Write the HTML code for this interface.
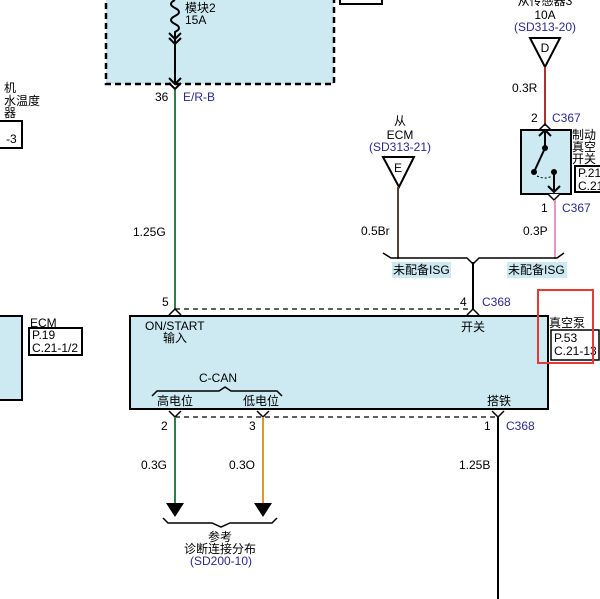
<!DOCTYPE html>
<html><head><meta charset="utf-8"><style>
body{margin:0;background:#fff}
svg{display:block;font-family:"Liberation Sans","Noto Sans CJK SC",sans-serif;font-size:12px}
.b{fill:#2a2a8a}
</style></head><body>
<svg width="600" height="599" viewBox="0 0 600 599" xmlns="http://www.w3.org/2000/svg">
<!-- top module box -->
<rect x="106" y="-5" width="228" height="89" fill="#cde9f1" stroke="#000" stroke-width="2.5" stroke-dasharray="6,4"/>
<rect x="340" y="-5" width="42" height="9" fill="#fff" stroke="#000" stroke-width="2"/>
<path d="M175 0 q-8 4 0 8 q8 4 0 8 q-8 4 0 8 q8 4 0 8 L175 84" fill="none" stroke="#000" stroke-width="2"/>
<path d="M169 33 l6 6 l6 -6 M169 38 l6 6 l6 -6 M169 78 l6 6 l6 -6 M169 83 l6 6 l6 -6" fill="none" stroke="#000" stroke-width="2"/>
<text x="185" y="12">模块2</text><text x="185" y="24">15A</text>
<text x="155" y="101">36</text><text x="183" y="101" class="b">E/R-B</text>
<line x1="175" y1="90" x2="175" y2="310" stroke="#2e7d4a" stroke-width="2"/>
<text x="133" y="236">1.25G</text>
<!-- left -->
<text x="4" y="92">机</text><text x="4" y="105">水温度</text><text x="4" y="117">器</text>
<rect x="-2" y="121" width="24" height="27" fill="#fff" stroke="#000" stroke-width="2"/>
<text x="6" y="143">-3</text>
<rect x="-2" y="316" width="24" height="84" fill="#cde9f1" stroke="#000" stroke-width="2"/>
<text x="30" y="327">ECM</text>
<rect x="29" y="328" width="53" height="27" fill="#fff" stroke="#000" stroke-width="2"/>
<text x="32" y="339">P.19</text><text x="32" y="352">C.21-1/2</text>
<!-- main box -->
<rect x="130" y="316" width="418" height="93" fill="#cde9f1" stroke="#000" stroke-width="2"/>
<line x1="175" y1="309" x2="473" y2="309" stroke="#000" stroke-width="1.2" stroke-dasharray="5,4"/>
<path d="M169 315 l6 -6 l6 6 M467 315 l6 -6 l6 6" fill="none" stroke="#000" stroke-width="1.5"/>
<text x="162" y="306">5</text><text x="460" y="306">4</text><text x="482" y="306" class="b">C368</text>
<text x="145" y="330">ON/START</text><text x="163" y="342">输入</text><text x="461" y="331">开关</text>
<text x="199" y="382">C-CAN</text>
<path d="M152 396 l5 -5 h62 l6 -4 l6 4 h46 l5 5" fill="none" stroke="#000" stroke-width="1.5"/>
<text x="157" y="405">高电位</text><text x="243" y="405">低电位</text><text x="487" y="405">搭铁</text>
<line x1="175" y1="417" x2="498" y2="417" stroke="#000" stroke-width="1.2" stroke-dasharray="5,4"/>
<path d="M169 411 l6 6 l6 -6 M257 411 l6 6 l6 -6 M492 411 l6 6 l6 -6" fill="none" stroke="#000" stroke-width="1.5"/>
<text x="161" y="430">2</text><text x="249" y="430">3</text><text x="484" y="430">1</text><text x="506" y="430" class="b">C368</text>
<line x1="175" y1="417" x2="175" y2="505" stroke="#2e7d4a" stroke-width="2"/>
<line x1="263" y1="417" x2="263" y2="505" stroke="#d89a30" stroke-width="2"/>
<line x1="498" y1="417" x2="498" y2="599" stroke="#000" stroke-width="2"/>
<text x="141" y="469">0.3G</text><text x="229" y="469">0.3O</text><text x="459" y="469">1.25B</text>
<path d="M166 503 h18 l-9 14z M254 503 h18 l-9 14z" fill="#000"/>
<path d="M163 518 l5 5 h44 l9 4 l9 -4 h42 l5 -5" fill="none" stroke="#000" stroke-width="1.5"/>
<text x="208" y="541">参考</text><text x="184" y="553">诊断连接分布</text><text x="190" y="565" class="b">(SD200-10)</text>
<!-- right -->
<text x="549" y="327">真空泵</text>
<rect x="551" y="330" width="48" height="30" fill="#fff" stroke="#000" stroke-width="1.5"/>
<text x="554" y="342">P.53</text><text x="554" y="355">C.21-13</text>
<rect x="538" y="290" width="55" height="73" fill="none" stroke="#e53935" stroke-width="2"/>
<!-- sensor D -->
<text x="545" y="5" text-anchor="middle">从传感器3</text>
<text x="545" y="19" text-anchor="middle">10A</text>
<text x="545" y="31" text-anchor="middle" class="b">(SD313-20)</text>
<path d="M530 38 h30 l-15 29z" fill="#fff" stroke="#000" stroke-width="2"/>
<text x="545" y="52" text-anchor="middle">D</text>
<line x1="545" y1="67" x2="545" y2="126" stroke="#b03030" stroke-width="2"/>
<text x="512" y="92">0.3R</text>
<text x="531" y="122">2</text><text x="552" y="122" class="b">C367</text>
<rect x="521" y="130" width="50" height="64" fill="#cde9f1" stroke="#000" stroke-width="2"/>
<path d="M539 130 l6 -6 l6 6" fill="none" stroke="#000" stroke-width="1.5"/>
<path d="M545 130 v18 l-11 24 M539 136 l6 -6 l6 6" fill="none" stroke="#000" stroke-width="2"/>
<circle cx="545" cy="148" r="3"/><circle cx="534" cy="172" r="3"/><circle cx="554" cy="172" r="3"/>
<path d="M537 176 q8 4 15 0" fill="none" stroke="#000" stroke-dasharray="2,2"/>
<path d="M554 172 v20 M548 186 l6 6 l6 -6" fill="none" stroke="#000" stroke-width="2"/>
<path d="M548 194 l6 6 l6 -6" fill="#fff" stroke="#000" stroke-width="1.5"/>
<text x="572" y="139">制动</text><text x="572" y="151">真空</text><text x="572" y="163">开关</text>
<rect x="575" y="166" width="30" height="26" fill="#fff" stroke="#000" stroke-width="2"/>
<text x="578" y="177">P.21</text><text x="578" y="190">C.21</text>
<text x="541" y="212">1</text><text x="562" y="212" class="b">C367</text>
<line x1="555" y1="200" x2="555" y2="259" stroke="#e098c8" stroke-width="2"/>
<text x="523" y="235">0.3P</text>
<!-- ECM E -->
<text x="400" y="125" text-anchor="middle">从</text>
<text x="400" y="139" text-anchor="middle">ECM</text>
<text x="400" y="151" text-anchor="middle" class="b">(SD313-21)</text>
<path d="M383 157 h31 l-15 30z" fill="#fff" stroke="#000" stroke-width="2"/>
<text x="398" y="172" text-anchor="middle">E</text>
<line x1="398" y1="187" x2="398" y2="259" stroke="#5a4030" stroke-width="2"/>
<text x="361" y="235">0.5Br</text>
<path d="M383 253 l8 5 h76 l6 6 l6 -6 h78 l7 -5" fill="none" stroke="#000" stroke-width="1.5"/>
<line x1="473" y1="262" x2="473" y2="310" stroke="#000" stroke-width="2"/>
<rect x="392" y="262" width="59" height="16" fill="#cde9f1"/>
<rect x="507" y="262" width="60" height="16" fill="#cde9f1"/>
<text x="393" y="274">未配备ISG</text><text x="508" y="274">未配备ISG</text>
</svg>
</body></html>
